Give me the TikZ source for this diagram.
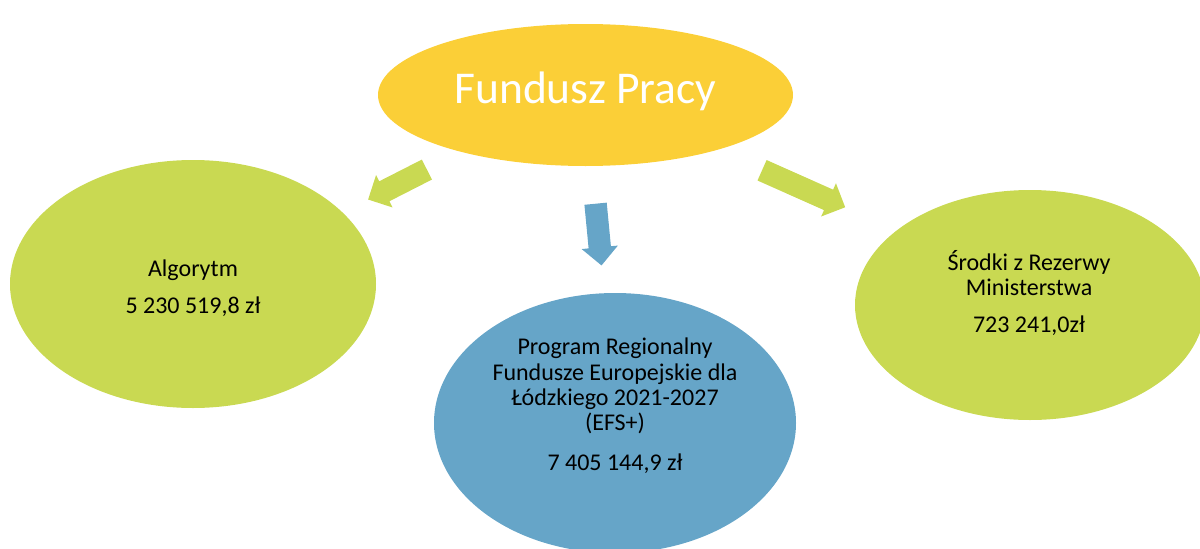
\documentclass[tikz,border=0pt]{standalone}
\usepackage{fontspec}
\setmainfont{Carlito}
\usetikzlibrary{shapes.geometric,shapes.arrows}
\definecolor{fpyellow}{HTML}{FBCF37}
\definecolor{fpgreen}{HTML}{C9D952}
\definecolor{fpblue}{HTML}{66A5C8}
\tikzset{
  oval/.style={ellipse, draw=none, inner sep=0pt},
  txt/.style={anchor=base, inner sep=0pt, font=\fontsize{24}{25}\selectfont, text=black},
  barrow/.style={single arrow, draw=none, inner xsep=0pt, inner ysep=11pt, minimum width=36pt,
    single arrow head extend=7pt, single arrow tip angle=90},
}
\begin{document}
\begin{tikzpicture}[x=1pt,y=-1pt]
\useasboundingbox (0,0) rectangle (1200,549);
% ellipses
\node[oval, fill=fpgreen, minimum width=366pt, minimum height=248pt] (alg) at (193,284) {};
\node[oval, fill=fpgreen, minimum width=350pt, minimum height=230pt] (rez) at (1030,305) {};
\node[oval, fill=fpblue, minimum width=362pt, minimum height=260pt] (efs) at (615,423) {};
\node[oval, fill=fpyellow, minimum width=415pt, minimum height=142pt] (fp) at (585.5,95) {};
% title
\node[anchor=base, inner sep=0pt, text=white, font=\fontsize{45.5}{48}\selectfont] (fpt) at (585.5,103) {Fundusz Pracy};
% block arrows
\node[barrow, fill=fpgreen, minimum height=66pt, rotate=207] (a1) at (402.5,182) {};
\node[barrow, fill=fpblue, minimum height=62pt, rotate=275.5] (a2) at (598,229) {};
\node[barrow, fill=fpgreen, minimum height=91pt, rotate=-24] (a3) at (798.5,186.5) {};
% texts
\node[txt] (alg1) at (193,276) {Algorytm};
\node[txt] (alg2) at (193,313) {5 230 519,8 zł};
\node[txt] (rez1) at (1029,270) {Środki z Rezerwy};
\node[txt] (rez2) at (1029,295) {Ministerstwa};
\node[txt] (rez3) at (1029,332) {723 241,0zł};
\node[txt] (efs1) at (615,354) {Program Regionalny};
\node[txt] (efs2) at (615,380) {Fundusze Europejskie dla};
\node[txt] (efs3) at (615,405) {Łódzkiego 2021-2027};
\node[txt] (efs4) at (615,430) {(EFS+)};
\node[txt] (efs5) at (615,470) {7 405 144,9 zł};
\end{tikzpicture}
\end{document}
